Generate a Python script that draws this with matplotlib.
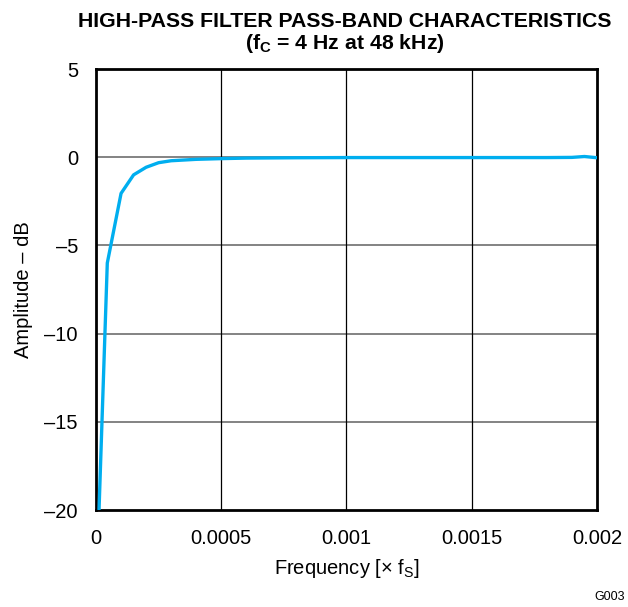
import matplotlib
matplotlib.use("Agg")
import matplotlib.pyplot as plt

plt.rcParams['font.family'] = ['Liberation Sans', 'DejaVu Sans']

# values
freq = [0.000012, 0.000045, 0.0001, 0.00015, 0.0002, 0.00025, 0.0003, 0.0004,
        0.0005, 0.0006, 0.0008, 0.001, 0.0012, 0.0014, 0.0016, 0.0018,
        0.0019, 0.00195, 0.002]
amp = [-20.0, -6.0, -2.05, -1.0, -0.57, -0.31, -0.2, -0.12,
       -0.08, -0.05, -0.03, -0.02, -0.02, -0.02, -0.02, -0.02,
       -0.01, 0.04, -0.03]

xticks = [0, 0.0005, 0.001, 0.0015, 0.002]
xticklabels = ['0', '0.0005', '0.001', '0.0015', '0.002']
yticks = [-20, -15, -10, -5, 0, 5]
yticklabels = ['–20', '–15', '–10', '–5', '0', '5']

fig = plt.figure(figsize=(6.28, 6.07), dpi=100)
ax = fig.add_axes([0.1529, 0.1598, 0.7977, 0.7265])

for y in [-15, -10, -5, 0]:
    ax.axhline(y, color='#7a7a7a', lw=1.3, zorder=1)
for x in [0.0005, 0.001, 0.0015]:
    ax.axvline(x, color='black', lw=0.9, zorder=1)

ax.plot(freq, amp, color='#00aeef', lw=2.4, zorder=3)

ax.set_xlim(0, 0.002)
ax.set_ylim(-20, 5)
ax.set_xticks(xticks)
ax.set_xticklabels(xticklabels)
ax.set_yticks(yticks)
ax.set_yticklabels(yticklabels)
ax.tick_params(length=0, labelsize=14.5, pad=14)
ax.tick_params(axis='y', pad=13)
for s in ax.spines.values():
    s.set_linewidth(2)

ax.set_xlabel('Frequency [× f$_\\mathregular{S}$]', fontsize=14.5, labelpad=6)
ax.set_ylabel('Amplitude – dB', fontsize=14.5, labelpad=8)

fig.text(0.549, 0.965, 'HIGH-PASS FILTER PASS-BAND CHARACTERISTICS',
         ha='center', va='center', fontsize=15.3, fontweight='bold')
fig.text(0.549, 0.929, '(f$_\\mathregular{C}$ = 4 Hz at 48 kHz)',
         ha='center', va='center', fontsize=15.3, fontweight='bold')
fig.text(0.995, 0.017, 'G003', ha='right', va='center', fontsize=9)

fig.savefig('out.png', dpi=100)
